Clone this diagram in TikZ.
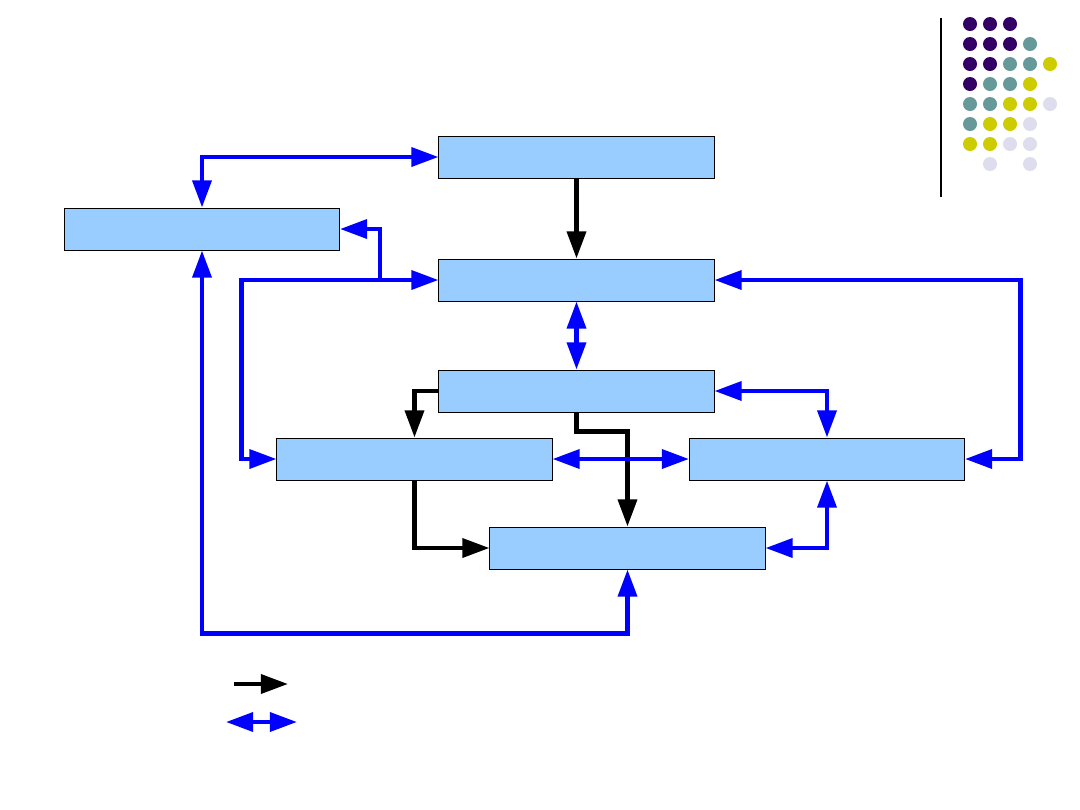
\documentclass[tikz,border=0pt]{standalone}
\usetikzlibrary{arrows.meta}
\definecolor{boxblue}{HTML}{99CCFF}
\definecolor{dotpurple}{HTML}{330066}
\definecolor{dotteal}{HTML}{669999}
\definecolor{dotyellow}{HTML}{CCCC00}
\definecolor{dotlilac}{HTML}{DDDDEE}
\begin{document}
\begin{tikzpicture}[x=0.025cm,y=-0.025cm,
		>={Triangle[length=6.8mm,width=4.7mm]},
		blk/.style={draw,fill=boxblue,line width=0.7pt,minimum width=6.875cm,minimum height=1.05cm,inner sep=0pt},
		flow/.style={line width=3.1pt,->},
		link/.style={line width=3.1pt,blue,<->}]
		\useasboundingbox (0,0) rectangle (1080,810);
		
		%Boxes
		\node[blk] (T) at (576.5,157) {};
		\node[blk] (L) at (202,229) {};
		\node[blk] (M) at (576.5,280) {};
		\node[blk] (C) at (576.5,391) {};
		\node[blk] (A) at (414.5,459) {};
		\node[blk] (B) at (827,459) {};
		\node[blk] (D) at (627.5,548) {};
		
		%Black arrows
		\draw[flow] (T.south) -- (M.north);
		\draw[flow] (C.west) -| (A.north);
		\draw[flow] (C.south) -- ++(0,19) -| (D.north);
		\draw[flow] (A.south) |- (D.west);
		
		%Blue arrows
		\draw[link] (L.north) |- (T.west);
		\draw[link] (M.west) -- ++(-197,0) |- (A.west);
		\coordinate (j1) at (380,280);
		\draw[line width=3.1pt,blue,->] (j1) |- (L.east);
		\draw[link] (M.south) -- (C.north);
		\draw[link] (M.east) -- ++(306,0) |- (B.east);
		\draw[link] (A.east) -- (B.west);
		\draw[link] (C.east) -| (B.north);
		\draw[link] (D.east) -| (B.south);
		\draw[link] (D.south) -- ++(0,64) -| (L.south);
		
		%Legend
		\coordinate (k1) at (234,684);
		\coordinate (k2) at (288,684);
		\draw[flow] (k1) -- (k2);
		\coordinate (k3) at (226,722);
		\coordinate (k4) at (297,722);
		\draw[link] (k3) -- (k4);
		
		%Dots
		\draw[line width=0.8pt] (941,18) -- (941,197);
		\fill[dotpurple] (970,24) circle (1.75mm);
		\fill[dotpurple] (990,24) circle (1.75mm);
		\fill[dotpurple] (1010,24) circle (1.75mm);
		
		\fill[dotpurple] (970,44) circle (1.75mm);
		\fill[dotpurple] (990,44) circle (1.75mm);
		\fill[dotpurple] (1010,44) circle (1.75mm);
		\fill[dotteal] (1030,44) circle (1.75mm);
		
		\fill[dotpurple] (970,64) circle (1.75mm);
		\fill[dotpurple] (990,64) circle (1.75mm);
		\fill[dotteal] (1010,64) circle (1.75mm);
		\fill[dotteal] (1030,64) circle (1.75mm);
		\fill[dotyellow] (1050,64) circle (1.75mm);
		
		\fill[dotpurple] (970,84) circle (1.75mm);
		\fill[dotteal] (990,84) circle (1.75mm);
		\fill[dotteal] (1010,84) circle (1.75mm);
		\fill[dotyellow] (1030,84) circle (1.75mm);
		
		\fill[dotteal] (970,104) circle (1.75mm);
		\fill[dotteal] (990,104) circle (1.75mm);
		\fill[dotyellow] (1010,104) circle (1.75mm);
		\fill[dotyellow] (1030,104) circle (1.75mm);
		\fill[dotlilac] (1050,104) circle (1.75mm);
		
		\fill[dotteal] (970,124) circle (1.75mm);
		\fill[dotyellow] (990,124) circle (1.75mm);
		\fill[dotyellow] (1010,124) circle (1.75mm);
		\fill[dotlilac] (1030,124) circle (1.75mm);
		
		\fill[dotyellow] (970,144) circle (1.75mm);
		\fill[dotyellow] (990,144) circle (1.75mm);
		\fill[dotlilac] (1010,144) circle (1.75mm);
		\fill[dotlilac] (1030,144) circle (1.75mm);
		
		\fill[dotlilac] (990,164) circle (1.75mm);
		\fill[dotlilac] (1030,164) circle (1.75mm);
	\end{tikzpicture}
\end{document}
